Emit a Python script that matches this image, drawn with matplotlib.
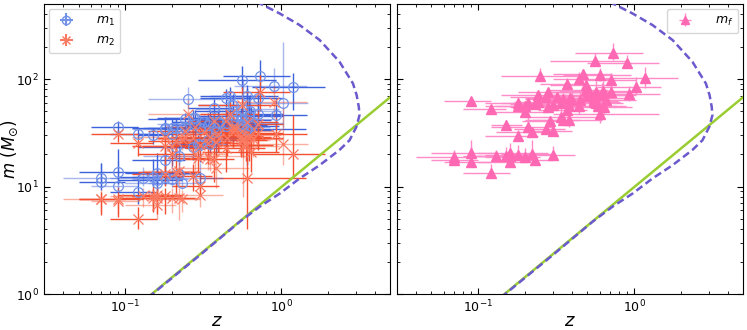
import numpy as np
import matplotlib
matplotlib.use('Agg')
import matplotlib.pyplot as plt

# redshift and masses of the events
z = [0.09, 0.21, 0.09, 0.20, 0.07, 0.49, 0.20, 0.12, 0.21, 0.35,
     0.29, 0.15, 0.59, 0.71, 0.49, 0.39, 0.27, 0.27, 0.37, 0.45,
     0.34, 0.44, 0.56, 0.24, 0.44, 0.47, 0.49, 0.18, 0.37, 0.71,
     0.16, 0.18, 0.64, 0.16, 0.55, 0.18, 0.55, 0.55, 0.38, 0.30,
     0.62, 0.28, 0.30, 0.12, 0.60, 0.15, 0.20, 0.23, 0.25, 0.30,
     0.57, 0.16, 0.34, 0.13, 0.35, 0.07, 0.51, 1.03, 0.24, 0.56,
     0.18, 0.09, 0.40, 0.57, 0.63, 0.57, 0.90, 0.66, 0.32, 0.22,
     0.28, 0.38, 0.23, 0.22, 0.73, 1.18, 0.92, 0.60]
z_lo = [0.03, 0.09, 0.04, 0.08, 0.02, 0.21, 0.07, 0.04, 0.07, 0.15,
        0.10, 0.03, 0.24, 0.30, 0.21, 0.19, 0.11, 0.10, 0.13, 0.19,
        0.14, 0.14, 0.27, 0.10, 0.20, 0.17, 0.20, 0.07, 0.12, 0.27,
        0.07, 0.07, 0.33, 0.06, 0.22, 0.07, 0.23, 0.24, 0.15, 0.10,
        0.33, 0.10, 0.10, 0.04, 0.25, 0.06, 0.09, 0.09, 0.11, 0.12,
        0.29, 0.06, 0.13, 0.05, 0.13, 0.03, 0.22, 0.45, 0.07, 0.28,
        0.07, 0.03, 0.16, 0.26, 0.30, 0.22, 0.40, 0.31, 0.08, 0.09,
        0.12, 0.18, 0.07, 0.08, 0.31, 0.53, 0.40, 0.30]
z_hi = [0.03, 0.09, 0.04, 0.08, 0.03, 0.19, 0.05, 0.03, 0.07, 0.15,
        0.06, 0.04, 0.29, 0.31, 0.19, 0.23, 0.11, 0.09, 0.13, 0.26,
        0.24, 0.25, 0.36, 0.07, 0.34, 0.25, 0.23, 0.10, 0.11, 0.32,
        0.07, 0.06, 0.33, 0.12, 0.21, 0.05, 0.31, 0.26, 0.10, 0.10,
        0.41, 0.13, 0.11, 0.04, 0.35, 0.06, 0.05, 0.07, 0.18, 0.12,
        0.40, 0.05, 0.25, 0.04, 0.10, 0.02, 0.23, 0.45, 0.07, 0.33,
        0.05, 0.03, 0.23, 0.28, 0.37, 0.22, 0.55, 0.36, 0.08, 0.08,
        0.16, 0.24, 0.05, 0.08, 0.41, 0.73, 0.55, 0.84]

m1 = [35.6, 23.2, 13.7, 30.8, 11.0, 50.2, 35.0, 30.6, 35.4, 39.5,
      24.8, 30.1, 33.7, 47.5, 41.3, 39.5, 43.3, 23.3, 35.7, 39.0,
      37.4, 66.0, 98.4, 42.2, 36.5, 69.1, 57.1, 35.1, 53.9, 67.0,
      11.6, 17.6, 36.5, 13.4, 38.0, 12.3, 41.5, 37.3, 32.1, 24.1,
      45.8, 43.9, 35.3, 8.9, 70.0, 12.3, 11.8, 10.7, 65.0, 12.1,
      53.0, 10.7, 27.3, 11.9, 24.9, 12.1, 45.1, 60.0, 35.6, 42.2,
      34.5, 10.1, 38.8, 35.6, 51.0, 37.5, 87.0, 38.9, 40.0, 19.3,
      37.8, 28.3, 34.2, 13.1, 106.0, 85.0, 46.0, 34.0]
m1_lo = [3.1, 5.5, 3.2, 5.6, 1.7, 10.2, 5.9, 3.0, 4.7, 6.7,
         3.4, 5.1, 7.4, 10.8, 6.9, 5.0, 8.1, 5.8, 9.2, 6.5,
         7.6, 11.0, 17.0, 5.0, 9.0, 13.0, 12.0, 5.6, 8.0, 16.0,
         1.7, 3.3, 7.0, 3.0, 6.2, 2.0, 9.0, 7.0, 4.0, 7.0,
         13.0, 6.1, 6.0, 2.0, 16.0, 2.1, 1.8, 1.3, 11.0, 1.9,
         17.0, 1.6, 4.7, 1.7, 4.1, 2.3, 8.0, 25.0, 4.5, 7.8,
         3.1, 1.4, 9.0, 6.8, 14.0, 6.9, 13.0, 8.6, 6.9, 3.5,
         8.5, 7.7, 4.2, 1.7, 24.0, 33.0, 12.0, 18.0]
m1_hi = [4.8, 14.9, 8.8, 7.3, 5.5, 16.2, 8.3, 5.6, 7.5, 11.2,
         5.4, 4.7, 10.0, 14.0, 9.3, 11.0, 8.5, 5.3, 8.6, 13.1,
         11.4, 14.0, 34.0, 5.8, 16.0, 15.0, 16.0, 9.4, 11.0, 14.0,
         3.3, 4.7, 18.0, 7.2, 9.5, 7.2, 12.0, 9.0, 5.8, 7.0,
         24.0, 7.6, 9.6, 4.0, 19.0, 5.6, 6.2, 3.7, 19.0, 4.6,
         47.0, 4.1, 11.6, 3.3, 7.1, 4.6, 16.0, 160.0, 4.5, 11.0,
         9.3, 7.2, 17.0, 11.0, 22.0, 10.0, 40.0, 14.0, 6.7, 5.0,
         9.0, 13.0, 6.4, 10.0, 45.0, 28.0, 20.0, 48.0]

m2 = [30.6, 13.6, 7.7, 20.0, 7.6, 34.0, 23.8, 25.2, 26.7, 29.0,
      18.5, 8.3, 24.2, 31.8, 31.9, 31.0, 28.4, 12.6, 18.0, 28.4,
      25.3, 40.5, 57.2, 32.8, 22.6, 47.8, 35.5, 23.7, 40.8, 38.2,
      8.4, 13.2, 20.8, 7.8, 29.4, 8.1, 28.8, 27.3, 26.2, 10.2,
      28.3, 35.6, 24.4, 5.0, 40.0, 7.8, 7.9, 7.7, 47.0, 8.3,
      24.0, 6.7, 19.2, 8.2, 18.1, 7.7, 34.7, 25.0, 28.3, 32.6,
      28.9, 7.3, 28.4, 27.1, 30.0, 27.9, 61.0, 27.9, 32.5, 14.0,
      20.0, 14.8, 27.7, 7.8, 76.0, 20.0, 31.0, 12.0]
m2_lo = [4.8, 4.8, 2.5, 4.6, 2.2, 10.1, 5.2, 6.0, 7.3, 8.3,
         5.3, 2.4, 7.0, 10.0, 8.8, 10.0, 8.1, 3.6, 7.0, 9.2,
         9.1, 11.0, 30.0, 10.0, 9.0, 17.0, 12.0, 7.8, 11.0, 15.0,
         1.7, 3.1, 7.0, 2.3, 9.1, 2.5, 9.0, 8.3, 6.9, 2.1,
         11.0, 9.1, 6.3, 1.0, 11.0, 2.0, 2.2, 1.9, 15.0, 1.8,
         16.0, 1.7, 4.8, 1.7, 4.1, 1.9, 10.0, 9.0, 5.1, 8.9,
         9.3, 1.7, 8.0, 8.5, 9.0, 9.0, 18.0, 9.0, 7.2, 3.7,
         5.7, 5.1, 6.0, 2.9, 26.0, 8.0, 10.0, 8.0]
m2_hi = [3.0, 4.1, 2.2, 4.9, 1.3, 9.1, 5.1, 2.8, 4.3, 6.7,
         3.3, 1.9, 7.0, 13.0, 7.5, 7.7, 7.8, 3.6, 6.2, 9.3,
         7.7, 11.0, 27.0, 6.2, 10.0, 13.0, 12.0, 5.2, 8.7, 14.0,
         1.4, 2.9, 9.0, 2.2, 6.4, 1.6, 9.0, 7.0, 4.6, 3.6,
         17.0, 5.3, 5.6, 1.4, 13.0, 1.7, 1.7, 1.5, 17.0, 1.9,
         17.0, 1.5, 5.3, 1.4, 3.4, 1.6, 9.0, 30.0, 4.4, 8.8,
         3.3, 1.1, 10.0, 7.8, 14.0, 7.4, 25.0, 9.2, 5.3, 2.8,
         8.7, 6.5, 4.1, 1.9, 33.0, 26.0, 12.0, 17.0]

mf = [63.1, 35.7, 20.5, 48.9, 17.8, 79.5, 56.3, 53.2, 59.4, 65.4,
      41.1, 37.3, 56.0, 76.1, 69.7, 67.1, 68.6, 34.5, 51.6, 64.5,
      59.3, 101.0, 147.0, 71.0, 56.4, 111.0, 87.2, 56.4, 90.2, 99.0,
      19.2, 29.5, 54.9, 20.4, 63.8, 19.6, 67.0, 61.7, 55.9, 33.2,
      71.0, 75.8, 57.2, 13.3, 109.0, 19.4, 19.0, 17.6, 107.0, 19.6,
      76.0, 16.8, 44.1, 19.2, 41.4, 18.9, 75.5, 84.0, 60.8, 71.0,
      60.2, 16.8, 64.0, 59.9, 78.0, 62.2, 141.0, 64.0, 68.6, 32.1,
      55.5, 41.7, 59.0, 20.2, 175.0, 102.0, 72.0, 47.0]
mf_lo = [3.0, 3.8, 1.5, 4.0, 0.7, 10.2, 3.8, 2.5, 4.0, 7.4,
         2.8, 3.8, 7.0, 10.0, 8.0, 8.0, 7.7, 3.5, 6.0, 9.0,
         8.0, 12.0, 16.0, 5.0, 9.0, 14.0, 12.0, 5.0, 9.0, 14.0,
         1.0, 2.0, 8.0, 1.0, 8.0, 1.0, 9.0, 7.0, 4.0, 3.0,
         12.0, 6.0, 4.0, 1.0, 13.0, 1.0, 1.0, 0.6, 11.0, 1.0,
         11.0, 1.0, 3.5, 0.8, 2.7, 0.8, 6.0, 11.0, 4.0, 8.0,
         3.0, 0.9, 8.0, 7.0, 10.0, 7.0, 15.0, 9.0, 7.0, 2.0,
         5.0, 6.0, 3.0, 2.0, 24.0, 20.0, 10.0, 8.0]
mf_hi = [3.4, 9.9, 6.4, 5.1, 3.4, 15.5, 5.2, 3.2, 4.9, 9.4,
         3.9, 4.7, 10.0, 15.0, 11.0, 9.0, 9.4, 5.7, 9.0, 12.0,
         11.0, 16.0, 28.0, 6.0, 13.0, 13.0, 15.0, 10.0, 12.0, 16.0,
         3.0, 4.0, 13.0, 5.0, 10.0, 5.0, 12.0, 9.0, 6.0, 8.0,
         21.0, 7.0, 8.0, 3.0, 17.0, 4.0, 4.0, 2.9, 19.0, 4.0,
         20.0, 3.0, 8.0, 2.5, 5.0, 3.0, 12.0, 20.0, 4.0, 11.0,
         5.0, 7.0, 14.0, 10.0, 19.0, 9.0, 26.0, 12.0, 6.0, 4.0,
         10.0, 10.0, 6.0, 7.0, 40.0, 27.0, 15.0, 20.0]

# 1 = earlier catalogue (dark error bars), 0 = later one (light)
dark = [1] * 46 + [0] * 28 + [1] * 4

# horizon curve (dashed) and power-law line (green)
z_hor = [0.14, 0.30, 0.54, 0.726, 0.975, 1.31, 1.76, 2.36, 2.74, 3.03,
         3.17, 3.14, 3.04, 2.88, 2.36, 1.76, 1.31, 0.975, 0.70]
m_hor = [0.93, 2.3, 4.7, 6.5, 8.6, 11.9, 15.8, 21.9, 27.0, 36.0,
         46.0, 55.0, 71.0, 91.0, 145.0, 231.0, 318.0, 408.0, 520.0]
z_line = [0.14, 5.0]
m_line = [0.94, 68.0]


z = np.array(z); dark = np.array(dark, dtype=bool)
def pick(a, sel):
    return np.array(a)[sel]

fig = plt.figure(figsize=(7.47, 3.30), dpi=100)
ax1 = fig.add_axes([0.0589, 0.109, 0.4636, 0.879])
ax2 = fig.add_axes([0.531, 0.109, 0.4640, 0.879])

# left panel: m1 and m2
for sel, a in [(dark, 1.0), (~dark, 0.45)]:
    ax1.errorbar(z[sel], pick(m1, sel),
                 xerr=[pick(z_lo, sel), pick(z_hi, sel)],
                 yerr=[pick(m1_lo, sel), pick(m1_hi, sel)],
                 fmt='none', ecolor='#3d62dc', alpha=a, elinewidth=1.0, zorder=2)
    ax1.errorbar(z[sel], pick(m2, sel),
                 xerr=[pick(z_lo, sel), pick(z_hi, sel)],
                 yerr=[pick(m2_lo, sel), pick(m2_hi, sel)],
                 fmt='none', ecolor='#f4502f', alpha=a, elinewidth=1.0, zorder=2)
ax1.plot(z, m1, 'o', ms=7, mfc='none', mec='#7393e8', mew=0.9, zorder=3)
ax1.plot(z, m2, 'x', ms=7, color='#fb7a62', mew=0.9, zorder=3)

# legend handles
h1 = ax1.errorbar([], [], xerr=[], yerr=[], fmt='o', ms=6, mfc='none',
                  mec='#7393e8', ecolor='#7393e8', label='$m_1$')
h2 = ax1.errorbar([], [], xerr=[], yerr=[], fmt='x', ms=6, color='#fb7a62',
                  ecolor='#fb7a62', label='$m_2$')
ax1.legend(handles=[h1, h2], loc='upper left', fontsize=9, handletextpad=1.4,
           borderaxespad=0.4)

# right panel: mf
ax2.errorbar(z, mf, xerr=[z_lo, z_hi], yerr=[mf_lo, mf_hi], fmt='^', ms=7,
             color='#ff69b4', ecolor='#ff8cc8', elinewidth=1.0, label='$m_f$')
ax2.legend(loc='upper right', fontsize=9, handletextpad=1.4, borderaxespad=0.4,
           markerscale=0.85)

for ax in [ax1, ax2]:
    ax.plot(z_line, m_line, color='#9acd32', lw=1.8, zorder=4)
    ax.plot(z_hor, m_hor, color='#6a5acd', lw=1.8, ls=(0, (3.0, 1.6)), zorder=4)
    ax.set_xscale('log')
    ax.set_yscale('log')
    ax.set_xlim(0.03, 5)
    ax.set_ylim(1, 500)
    ax.set_xlabel('$z$', fontsize=13)
    ax.xaxis.set_label_coords(0.5, -0.062)
    ax.tick_params(which='both', direction='in', top=True, right=True, labelsize=9)
    ax.tick_params(which='major', length=4)
    ax.tick_params(which='minor', length=2.5)

ax1.set_ylabel(r'$m\ (M_{\odot})$', fontsize=12)
ax1.yaxis.set_label_coords(-0.068, 0.5)
ax2.tick_params(labelleft=False)

plt.savefig('out.png', dpi=100)
